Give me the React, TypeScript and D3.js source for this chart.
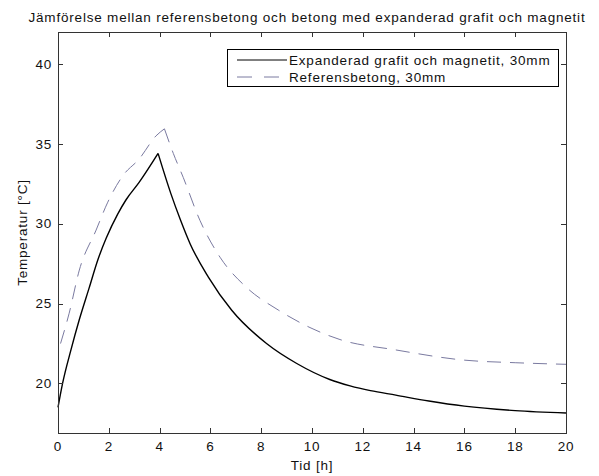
import React, { useEffect, useRef } from "react";
import * as d3 from "d3";

const TITLE = "Jämförelse mellan referensbetong och betong med expanderad grafit och magnetit";
const X_LABEL = "Tid [h]";
const Y_LABEL = "Temperatur [°C]";
const SERIES_NAMES = ["Expanderad grafit och magnetit, 30mm", "Referensbetong, 30mm"];

const X_TICKS = [0, 2, 4, 6, 8, 10, 12, 14, 16, 18, 20];
const Y_TICKS = [20, 25, 30, 35, 40];

// Expanderad grafit och magnetit (solid black)
const graphiteTime = [0, 0.18, 0.51, 0.84, 1.23, 1.56, 1.9, 2.35, 2.68, 3.2, 3.94, 4.44, 4.83, 5.2, 5.92, 6.84, 8.21, 9.4, 10.7, 11.5, 12.3, 13.3, 14.6, 16.0, 18.0, 20.0];
const graphiteTemp = [18.5, 20.0, 22.1, 24.0, 26.0, 27.7, 29.1, 30.6, 31.5, 32.6, 34.4, 31.9, 30.2, 28.75, 26.66, 24.58, 22.5, 21.25, 20.25, 19.85, 19.55, 19.27, 18.9, 18.58, 18.3, 18.15];

// Referensbetong (dashed)
const refTime = [0.1, 0.44, 0.84, 1.5, 1.96, 2.55, 3.2, 3.86, 4.19, 4.54, 4.93, 5.59, 6.38, 7.43, 8.67, 9.92, 11.1, 13.3, 16.0, 18.0, 20.0];
const refTemp = [22.5, 24.4, 27.1, 29.6, 31.35, 33.0, 34.06, 35.5, 35.94, 34.4, 32.9, 30.2, 27.9, 26.0, 24.6, 23.5, 22.75, 22.1, 21.46, 21.3, 21.2];

const W = 599, H = 476;
const M = { left: 58, right: 599 - 566, top: 32, bottom: 476 - 433 };
const FONT = "'Liberation Sans', Arial, Helvetica, sans-serif";
const FS = 13.5;
const LS = 0.8;

export default function App() {
  const ref = useRef<SVGSVGElement>(null);
  useEffect(() => {
    const svg = d3.select(ref.current);
    svg.selectAll("*").remove();
    const x = d3.scaleLinear().domain([0, 20]).range([M.left, W - M.right]);
    const y = d3.scaleLinear().domain([16.9, 42]).range([H - M.bottom, M.top]);
    const x0 = M.left, x1 = W - M.right, y0 = H - M.bottom, y1 = M.top;

    svg.append("rect").attr("width", W).attr("height", H).attr("fill", "#fff");

    const line = d3.line<[number, number]>().x(d => x(d[0])).y(d => y(d[1])).curve(d3.curveMonotoneX);
    // split each series at its peak so the peak stays sharp
    const pathFor = (ts: number[], vs: number[]) => {
      const data: [number, number][] = ts.map((t, i) => [t, vs[i]]);
      const pk = d3.maxIndex(vs);
      return (line(data.slice(0, pk + 1)) || "") + (line(data.slice(pk)) || "");
    };

    svg.append("path").attr("d", pathFor(refTime, refTemp)).attr("fill", "none").attr("stroke", "#7a7aa0")
      .attr("stroke-width", 1).attr("stroke-dasharray", "14,9");
    svg.append("path").attr("d", pathFor(graphiteTime, graphiteTemp)).attr("fill", "none").attr("stroke", "#000")
      .attr("stroke-width", 1.4).attr("stroke-linejoin", "miter");

    // axes box
    const ax = svg.append("g").attr("stroke", "#333").attr("stroke-width", 1).attr("shape-rendering", "crispEdges");
    ax.append("rect").attr("x", x0).attr("y", y1).attr("width", x1 - x0).attr("height", y0 - y1).attr("fill", "none");
    const tl = 5;
    X_TICKS.forEach(t => {
      const px = Math.round(x(t)) + 0.5;
      ax.append("line").attr("x1", px).attr("x2", px).attr("y1", y0).attr("y2", y0 - tl);
      ax.append("line").attr("x1", px).attr("x2", px).attr("y1", y1).attr("y2", y1 + tl);
    });
    Y_TICKS.forEach(t => {
      const py = Math.round(y(t)) + 0.5;
      ax.append("line").attr("x1", x0).attr("x2", x0 + tl).attr("y1", py).attr("y2", py);
      ax.append("line").attr("x1", x1).attr("x2", x1 - tl).attr("y1", py).attr("y2", py);
    });

    const txt = svg.append("g").attr("font-family", FONT).attr("font-size", FS).attr("letter-spacing", LS).attr("fill", "#111");
    X_TICKS.forEach(t => {
      txt.append("text").attr("x", x(t)).attr("y", y0 + 18).attr("text-anchor", "middle").text(String(t));
    });
    Y_TICKS.forEach(t => {
      txt.append("text").attr("x", x0 - 6).attr("y", y(t)).attr("dy", "0.35em").attr("text-anchor", "end").text(String(t));
    });
    txt.append("text").attr("x", (x0 + x1) / 2).attr("y", 470).attr("text-anchor", "middle").text(X_LABEL);
    txt.append("text").attr("transform", `translate(27,${(y0 + y1) / 2}) rotate(-90)`).attr("text-anchor", "middle").text(Y_LABEL);
    txt.append("text").attr("x", 307).attr("y", 22).attr("text-anchor", "middle").text(TITLE);

    // legend
    const lg = svg.append("g");
    lg.append("rect").attr("x", 227.5).attr("y", 49.5).attr("width", 331).attr("height", 37)
      .attr("fill", "#fff").attr("stroke", "#000").attr("stroke-width", 1);
    const rows = [60, 77];
    lg.append("line").attr("x1", 237).attr("x2", 287).attr("y1", rows[0]).attr("y2", rows[0]).attr("stroke", "#000").attr("stroke-width", 1);
    lg.append("line").attr("x1", 237).attr("x2", 287).attr("y1", rows[1]).attr("y2", rows[1]).attr("stroke", "#7a7aa0").attr("stroke-width", 1).attr("stroke-dasharray", "15,12");
    SERIES_NAMES.forEach((n, i) => {
      lg.append("text").attr("x", 289).attr("y", rows[i]).attr("dy", "0.35em").attr("font-family", FONT).attr("font-size", FS).attr("letter-spacing", LS).attr("fill", "#111").text(n);
    });
  }, []);
  return <svg ref={ref} width={W} height={H} style={{ position: "absolute", left: 0, top: 0 }} />;
}
